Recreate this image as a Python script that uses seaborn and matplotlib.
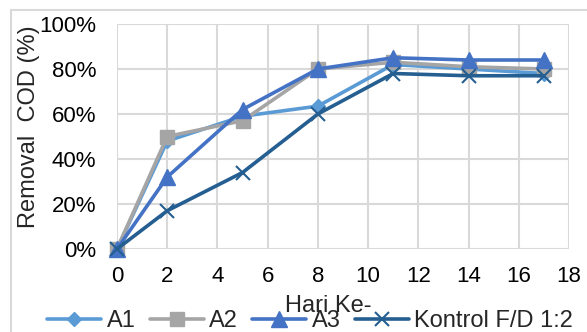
import numpy as np
import pandas as pd
import matplotlib
matplotlib.use("Agg")
import matplotlib.pyplot as plt
import seaborn as sns
from matplotlib.patches import Rectangle
from matplotlib.ticker import PercentFormatter

# Data kurva removal COD
hari = [0, 2, 5, 8, 11, 14, 17]
a1 = [0.00, 0.48, 0.59, 0.635, 0.82, 0.80, 0.78]
a2 = [0.00, 0.50, 0.57, 0.80, 0.83, 0.81, 0.80]
a3 = [0.00, 0.32, 0.62, 0.80, 0.85, 0.84, 0.84]
kontrol = [0.00, 0.17, 0.34, 0.60, 0.78, 0.77, 0.77]
seri = ["A1", "A2", "A3", "Kontrol F/D 1:2"]

sns.set_style("white")
plt.rcParams['font.family'] = ['Liberation Sans', 'DejaVu Sans']

fig = plt.figure(figsize=(5.87, 3.32), dpi=100)
ax = fig.add_axes([117/587, 1 - 249/332, (569 - 117)/587, (249 - 24)/332])

# border area chart
fig.patches.append(Rectangle((11/587, -0.2), 1.0, 1.2 - 10/332, transform=fig.transFigure,
                             fill=False, edgecolor='#D9D9D9', linewidth=1.5))

warna = ['#5B9BD5', '#A5A5A5', '#4472C4', '#255E91']
marker = ['D', 's', '^', 'x']
ukuran = [7, 10, 11, 10]
nilai = [a1, a2, a3, kontrol]

for nama, y, c, m, ms in zip(seri, nilai, warna, marker, ukuran):
    df = pd.DataFrame({"hari": hari, "removal": y})
    sns.lineplot(data=df, x="hari", y="removal", ax=ax, color=c, linewidth=2.6,
                 marker=m, markersize=ms, markeredgecolor=c, markeredgewidth=1.5 if m == 'x' else 1,
                 label=nama, legend=False, clip_on=False)

ax.set_xlim(0, 18)
ax.set_ylim(0, 1)
ax.set_xticks(np.arange(0, 19, 2))
ax.set_yticks(np.arange(0, 1.01, 0.2))
ax.yaxis.set_major_formatter(PercentFormatter(1.0, decimals=0))
ax.grid(True, color='#D9D9D9', linewidth=1.5)
ax.set_axisbelow(True)
for s in ax.spines.values():
    s.set_visible(False)
ax.tick_params(length=0, labelsize=16, colors='black')
ax.tick_params(axis='y', pad=15)
ax.tick_params(axis='x', pad=12)
ax.set_xlabel("")
ax.set_ylabel("")

fig.text(29/587, 1 - 127/332, "Removal  COD (%)", rotation=90, fontsize=17,
         ha='center', va='center')
fig.text(328/587, 1 - 306/332, "Hari Ke-", fontsize=17, ha='center', va='center')

handles, labels = ax.get_legend_handles_labels()
fig.legend(handles, labels, loc='center', bbox_to_anchor=(310/587, 1 - 321/332), ncol=4,
           frameon=False, fontsize=17, handlelength=2.3, handletextpad=0.22,
           columnspacing=0.6, borderaxespad=0)

fig.savefig("out.png", dpi=100)
